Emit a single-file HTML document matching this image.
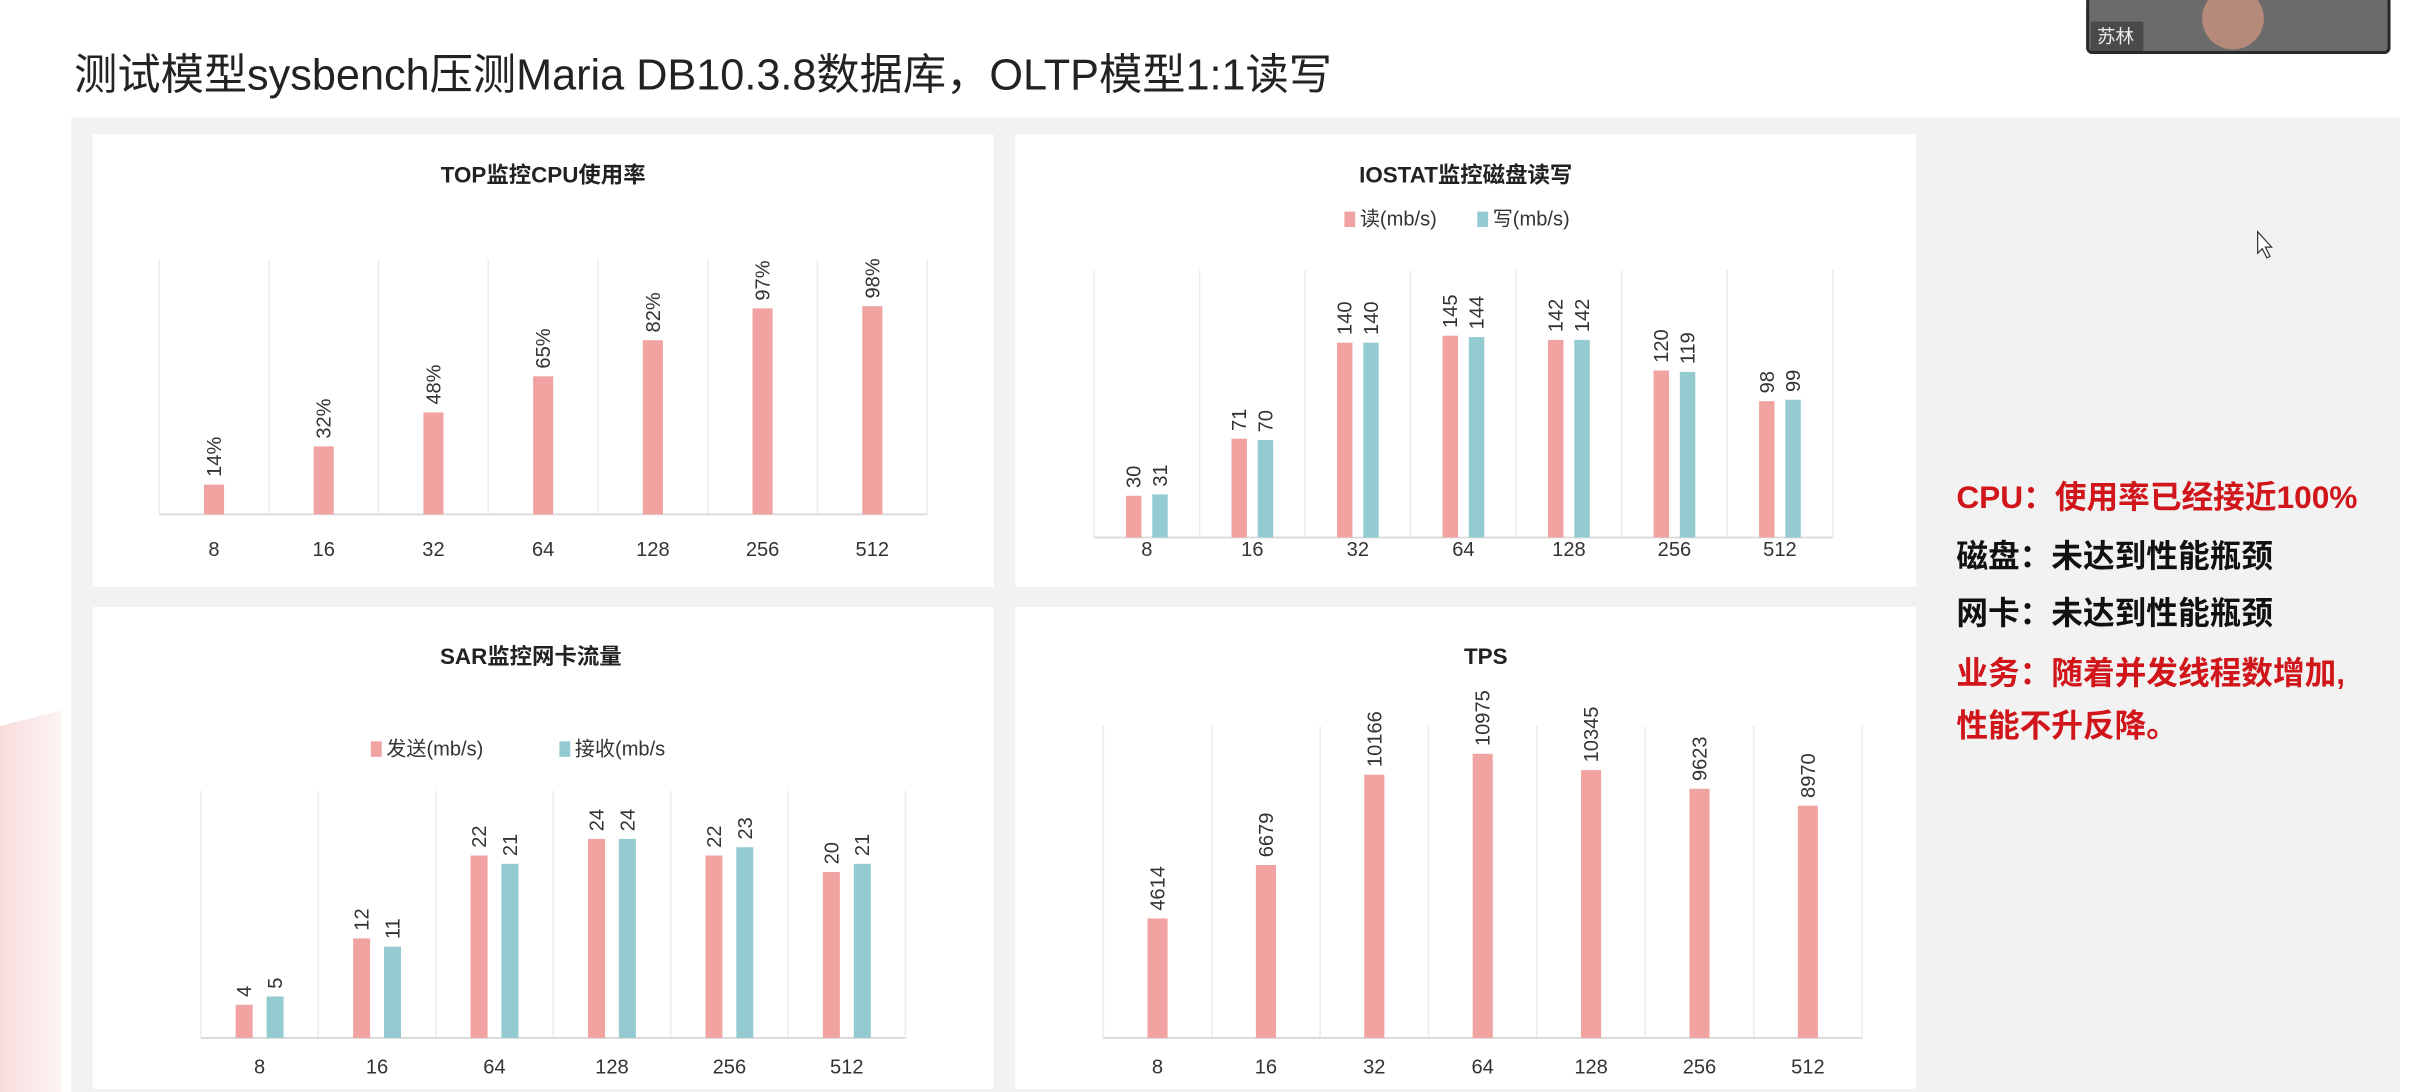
<!DOCTYPE html>
<html><head><meta charset="utf-8">
<style>
html,body{margin:0;padding:0;background:#fff;}
svg{display:block;font-family:"Liberation Sans","Noto Sans CJK SC",sans-serif;}
</style></head>
<body>
<svg id="root" width="2423" height="1092" viewBox="0 0 1568 707" preserveAspectRatio="none" xmlns="http://www.w3.org/2000/svg">
  <defs>
    <linearGradient id="pinkfade" x1="0" y1="0" x2="1" y2="0">
      <stop offset="0" stop-color="#f8dcdd"/><stop offset="1" stop-color="#fdf3f3"/>
    </linearGradient>
  </defs>
  <rect x="0" y="0" width="1568" height="707" fill="#ffffff"/>
  <polygon points="0,470 40,460 40,707 0,707" fill="url(#pinkfade)"/>
  <text x="48" y="58" font-size="28" fill="#222" textLength="814" lengthAdjust="spacingAndGlyphs">测试模型sysbench压测Maria DB10.3.8数据库，OLTP模型1:1读写</text>
  <rect x="46" y="76" width="1507" height="631" fill="#f2f2f2"/>
  <g>
    <rect x="1351" y="-2" width="195" height="36" rx="3" fill="#6b6b6b" stroke="#2a2a2a" stroke-width="2"/>
    <ellipse cx="1445" cy="12" rx="20" ry="20" fill="#b58a7a"/>
    <rect x="1353" y="14" width="34" height="19" fill="#4a4a4a"/>
    <text x="1357" y="28" font-size="12" fill="#eee">苏林</text>
  </g>
  <g id="charts"></g>
  <g font-size="20.5" font-weight="bold">
    <text x="1266" y="329" fill="#d0161b">CPU：使用率已经接近100%</text>
    <text x="1266" y="367" fill="#111">磁盘：未达到性能瓶颈</text>
    <text x="1266" y="404" fill="#111">网卡：未达到性能瓶颈</text>
    <text x="1266" y="443" fill="#d0161b">业务：随着并发线程数增加,</text>
    <text x="1266" y="477" fill="#d0161b">性能不升反降。</text>
  </g>
  <path d="M1461,150 L1461,164 L1464,161 L1467,167 L1469,166 L1466,160 L1470,160 Z" fill="#fff" stroke="#333" stroke-width="0.8"/>
</svg>
<script>
const cpuCats = ["8","16","32","64","128","256","512"];
const cpuVals = [14,32,48,65,82,97,98];
const ioCats = ["8","16","32","64","128","256","512"];
const ioRead = [30,71,140,145,142,120,98];
const ioWrite = [31,70,140,144,142,119,99];
const sarCats = ["8","16","64","128","256","512"];
const sarSend = [4,12,22,24,22,20];
const sarRecv = [5,11,21,24,23,21];
const tpsCats = ["8","16","32","64","128","256","512"];
const tpsVals = [4614,6679,10166,10975,10345,9623,8970];

const NS = "http://www.w3.org/2000/svg";
const PINK = "#f0a3a0", TEAL = "#93cbd0";
const root = document.getElementById("charts");
function mk(tag, attrs, parent){
  const e = document.createElementNS(NS, tag);
  for (const k in attrs) e.setAttribute(k, attrs[k]);
  (parent||root).appendChild(e);
  return e;
}
function chart(cfg){
  const g = mk("g", {});
  
  
  const panel = mk("rect", {x:cfg.px, y:cfg.py, width:cfg.pw, height:cfg.ph, fill:"#fff"}, g);
  
  
  const t = mk("text", {x:cfg.px+cfg.pw/2 + (cfg.tdx||0), y:cfg.ty, "text-anchor":"middle", "font-size":"14.5", "font-weight":"bold", fill:"#222"}, g);
  t.textContent = cfg.title;
  
  
  const n = cfg.cats.length;
  const cw = (cfg.x1 - cfg.x0)/n;
  const yS = v => cfg.base - v/cfg.yMax*(cfg.base - cfg.top);
  for (let i=0;i<=n;i++){
    const gl = mk("line", {x1:cfg.x0+i*cw, x2:cfg.x0+i*cw, y1:cfg.top, y2:cfg.base, stroke:"#ececec", "stroke-width":"1"}, g);
    
    
  }
  const ax = mk("line", {x1:cfg.x0, x2:cfg.x1, y1:cfg.base, y2:cfg.base, stroke:"#d9d9d9", "stroke-width":"1.2"}, g);
  
  
  const ns = cfg.series.length;
  cfg.series.forEach((s, si) => {
    s.vals.forEach((v, i) => {
      const cx = cfg.x0 + (i+0.5)*cw + (ns>1 ? (si-0.5)*cfg.gap : 0);
      const y = yS(v);
      const r = mk("rect", {x:cx-cfg.bw/2, y:y, width:cfg.bw, height:cfg.base-y, fill:s.color}, g);
      
      
      const lb = mk("text", {x:0, y:0, "font-size":"13", fill:"#333", transform:`translate(${cx+4.5},${y-5}) rotate(-90)`}, g);
      lb.textContent = v + (cfg.suffix||"");
      
      
    });
  });
  cfg.cats.forEach((c,i) => {
    const tl = mk("text", {x:cfg.x0+(i+0.5)*cw, y:cfg.ly, "text-anchor":"middle", "font-size":"13", fill:"#333"}, g);
    tl.textContent = c;
    
    
  });
  (cfg.legend||[]).forEach(l => {
    const lg = mk("g", {}, g);
    
    
    mk("rect", {x:l.x, y:cfg.legY-9, width:7, height:10, fill:l.color}, lg);
    const lt = mk("text", {x:l.x+10, y:cfg.legY, "font-size":"13", fill:"#333"}, lg);
    lt.textContent = l.text;
  });
}
chart({name:"cpu-chart", title:"TOP监控CPU使用率", px:60, py:87, pw:583, ph:293, ty:118,
  x0:103, x1:600, top:168, base:333, yMax:120, ly:360, bw:13, suffix:"%",
  cats:cpuCats, series:[{key:"cpu", vals:cpuVals, color:PINK}]});
chart({name:"iostat-chart", title:"IOSTAT监控磁盘读写", px:657, py:87, pw:583, ph:293, ty:118,
  x0:708, x1:1186, top:175, base:348, yMax:192, ly:360, bw:10, gap:17,
  cats:ioCats, series:[{key:"read", vals:ioRead, color:PINK},{key:"write", vals:ioWrite, color:TEAL}],
  legY:146, legend:[{x:870, color:PINK, text:"读(mb/s)"},{x:956, color:TEAL, text:"写(mb/s)"}]});
chart({name:"sar-chart", title:"SAR监控网卡流量", px:60, py:393, pw:583, ph:312, ty:430, tdx:-8,
  x0:130, x1:586, top:512, base:672, yMax:29.8, ly:695, bw:11, gap:20,
  cats:sarCats, series:[{key:"send", vals:sarSend, color:PINK},{key:"recv", vals:sarRecv, color:TEAL}],
  legY:489, legend:[{x:240, color:PINK, text:"发送(mb/s)"},{x:362, color:TEAL, text:"接收(mb/s"}]});
chart({name:"tps-chart", title:"TPS", px:657, py:393, pw:583, ph:312, ty:430, tdx:13,
  x0:714, x1:1205, top:470, base:672, yMax:12050, ly:695, bw:13,
  cats:tpsCats, series:[{key:"tps", vals:tpsVals, color:PINK}]});
</script>
</body></html>
